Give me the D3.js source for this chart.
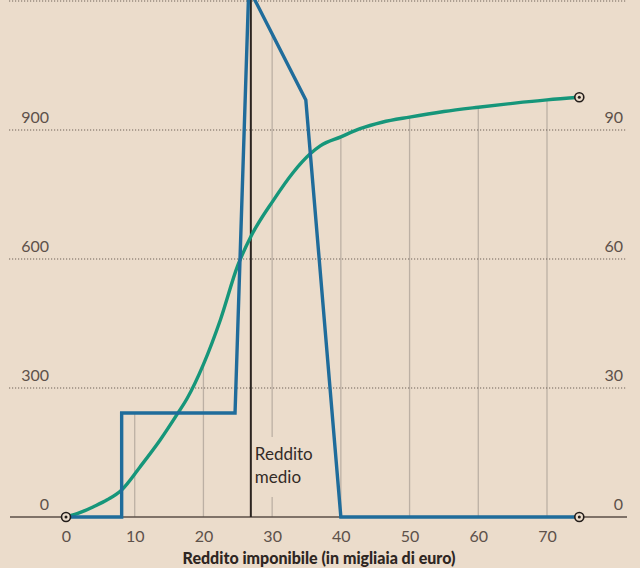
<!DOCTYPE html>
<html><head><meta charset="utf-8">
<script src="https://cdn.jsdelivr.net/npm/d3@7"></script>
<style>
html,body{margin:0;padding:0;background:#ebdccb;}
svg{display:block;}
text{font-family:Lato,"Open Sans",sans-serif;}
</style></head>
<body>
<svg id="c" width="640" height="568"></svg>
<script>
// Distribution (left axis, frequency) – blue
const blueX = [0, 8.1, 8.1, 24.6, 26.6, 34.9, 40, 74.7];
const blueY = [0, 0, 242, 242, 1230, 970, 0, 0];
// Cumulative share (right axis, %) – green
const greenX = [0, 2, 4, 6, 8.1, 10.8, 13.7, 16.3, 17.6, 20, 22.5, 25, 27, 30.2, 33, 35.5, 37, 40, 42.8, 46, 50, 55, 60, 65, 70, 74.7];
const greenY = [0, 1.0, 2.4, 4.0, 6.3, 11.7, 17.9, 24.2, 27.5, 35.5, 46, 58.5, 65.5, 73.7, 80, 84.4, 86.3, 88.4, 90.3, 91.8, 93.0, 94.3, 95.3, 96.2, 97.0, 97.6];
const meanIncome = 26.9;
const xTicks = [0, 10, 20, 30, 40, 50, 60, 70];
const leftTicks = [0, 300, 600, 900, 1200];
const rightTicks = [0, 30, 60, 90, 120];
const xTitle = "Reddito imponibile (in migliaia di euro)";
const meanLabel = ["Reddito", "medio"];

const svg = d3.select("#c");
const x = d3.scaleLinear().domain([0, 70]).range([66, 547]);
const yL = d3.scaleLinear().domain([0, 1200]).range([517, 1]);
const yR = d3.scaleLinear().domain([0, 120]).range([517, 1]);

const bg = "#ebdccb";
const blue = d3.zip(blueX, blueY);
const green = d3.zip(greenX, greenY);

function interp(pts, v) {
  for (let i = 0; i < pts.length - 1; i++) {
    const [x0, y0] = pts[i], [x1, y1] = pts[i + 1];
    if (v >= x0 && v <= x1 && x1 > x0) return y0 + (y1 - y0) * (v - x0) / (x1 - x0);
  }
  return 0;
}

// vertical gridlines up to the upper envelope of the curves
xTicks.filter(t => t > 0).forEach(t => {
  const top = Math.min(yL(interp(blue, t)), yR(interp(green, t)));
  svg.append("line").attr("x1", x(t)).attr("x2", x(t))
    .attr("y1", yL(0)).attr("y2", top)
    .attr("stroke", "#bcb0a4").attr("stroke-width", 1.3);
});

// horizontal dotted gridlines
leftTicks.filter(t => t > 0).forEach(t => {
  svg.append("line").attr("x1", 9).attr("x2", 627)
    .attr("y1", yL(t)).attr("y2", yL(t))
    .attr("stroke", "#6e6259").attr("stroke-width", 1.2)
    .attr("stroke-dasharray", "1.2,1.8");
});

// y labels
leftTicks.slice(0, 4).forEach(t => {
  svg.append("text").attr("x", 49).attr("y", yL(t) - 7)
    .attr("text-anchor", "end").attr("font-size", 16).attr("fill", "#5d514a").text(t);
});
rightTicks.slice(0, 4).forEach(t => {
  svg.append("text").attr("x", 623).attr("y", yR(t) - 7)
    .attr("text-anchor", "end").attr("font-size", 16).attr("fill", "#5d514a").text(t);
});

// x axis
const xAxis = d3.axisBottom(x).tickValues(xTicks).tickSize(0).tickPadding(14);
const gx = svg.append("g").attr("transform", `translate(0,${yL(0)})`).call(xAxis);
gx.select(".domain").remove();
gx.selectAll("text").attr("font-size", 16).attr("fill", "#5d514a")
  .attr("font-family", "Lato,'Open Sans',sans-serif");
svg.append("line").attr("x1", 10).attr("x2", 627).attr("y1", yL(0)).attr("y2", yL(0))
  .attr("stroke", "#5b4f47").attr("stroke-width", 1.5);

svg.append("text").attr("x", 319).attr("y", 564).attr("text-anchor", "middle")
  .attr("font-size", 16).attr("font-weight", 900).attr("fill", "#2e2622")
  .text(xTitle);

// mean label with background
svg.append("rect").attr("x", x(meanIncome) + 3).attr("y", 437).attr("width", 56).attr("height", 60).attr("fill", bg);
svg.append("line").attr("x1", x(meanIncome)).attr("x2", x(meanIncome))
  .attr("y1", 0).attr("y2", yL(0)).attr("stroke", "#2b2420").attr("stroke-width", 2);
meanLabel.forEach((s, i) => {
  svg.append("text").attr("x", x(meanIncome) + 4).attr("y", 460 + i * 23)
    .attr("font-size", 17).attr("fill", "#332b27").text(s);
});

// curves
svg.append("path").datum(green)
  .attr("d", d3.line().x(d => x(d[0])).y(d => yR(d[1])).curve(d3.curveMonotoneX))
  .attr("fill", "none").attr("stroke", "#16967a").attr("stroke-width", 3.4)
  .attr("stroke-linecap", "round");
svg.append("path").datum(blue)
  .attr("d", d3.line().x(d => x(d[0])).y(d => yL(d[1])))
  .attr("fill", "none").attr("stroke", "#1f6c9b").attr("stroke-width", 3.4)
  .attr("stroke-linejoin", "miter");

// end markers
[[0, 0], [74.7, 0], [74.7, 97.6 * 10]].forEach(([vx, vy]) => {
  svg.append("circle").attr("cx", x(vx)).attr("cy", yL(vy)).attr("r", 4.5)
    .attr("fill", bg).attr("stroke", "#231d1a").attr("stroke-width", 1.6);
  svg.append("circle").attr("cx", x(vx)).attr("cy", yL(vy)).attr("r", 1.5).attr("fill", "#231d1a");
});
</script>
</body></html>
